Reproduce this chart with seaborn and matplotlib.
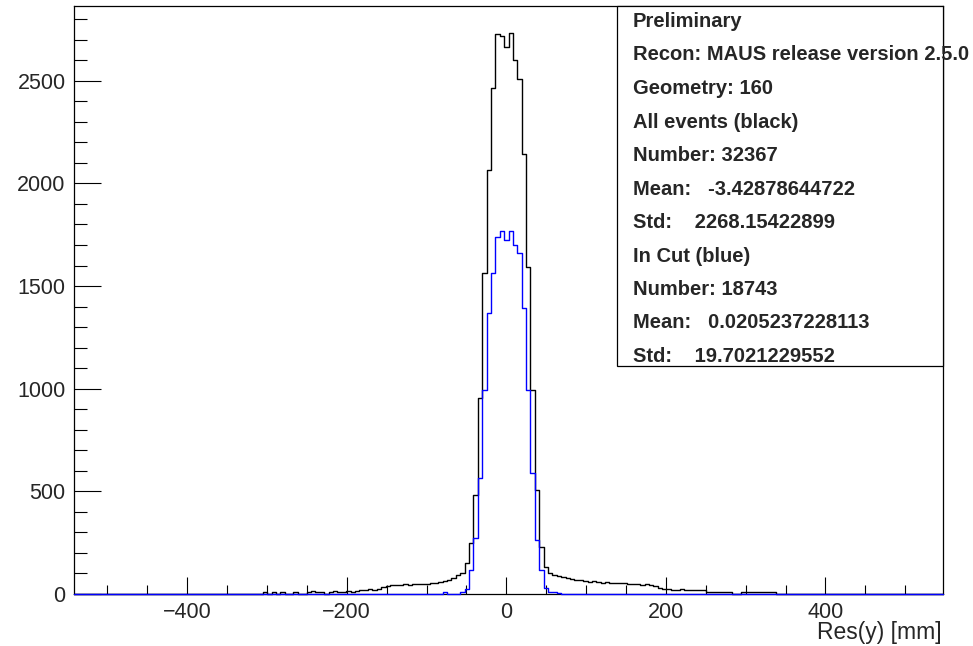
import numpy as np
import pandas as pd
import matplotlib
matplotlib.use("Agg")
import matplotlib.pyplot as plt
import seaborn as sns
from matplotlib.patches import Rectangle
from matplotlib.ticker import MultipleLocator

# ---------------- data ----------------
BIN_WIDTH = 5.5
X_MIN, X_MAX = -541.75, 547.25

# All events (black): bins with centres 5.5*k, k = -56 .. 62
all_first_k = -56
all_counts = [
    0, 10, 0, 12, 0, 8, 0, 0, 10, 0,          # k=-56..-47
    0, 8, 14, 10, 12, 0, 10, 14, 12, 10,      # k=-46..-37
    15, 12, 14, 20, 18, 22, 20, 24, 36, 40,   # k=-36..-27
    44, 42, 44, 48, 46, 48, 50, 48, 50, 52,   # k=-26..-17
    55, 60, 64, 70, 80, 92, 102, 150, 250, 482,  # k=-16..-7
    953, 1563, 2065, 2465, 2730, 2720, 2665, 2732, 2601, 2508,  # k=-6..3
    2143, 1593, 994, 506, 230, 133, 100, 92, 88, 82,  # k=4..13
    80, 72, 68, 70, 64, 60, 62, 58, 55, 58,   # k=14..23
    54, 55, 52, 56, 50, 48, 50, 46, 48, 44,   # k=24..33
    40, 30, 24, 22, 20, 20, 22, 20, 20, 18,   # k=34..43
    20, 18, 10, 12, 10, 10, 8, 10, 0, 0,      # k=44..53
    10, 10, 10, 10, 10, 10, 8, 10, 0,         # k=54..62
]

# In cut (blue): bins with centres 5.5*k, k = -14 .. 13
cut_first_k = -14
cut_counts = [
    8, 0, 0, 0, 10, 25, 117, 272, 565, 994,   # k=-14..-5
    1367, 1563, 1739, 1768, 1724, 1768, 1700, 1661, 1391, 994,  # k=-4..5
    590, 263, 117, 29, 12, 8, 5, 0,           # k=6..13
]

stats_lines = [
    "Preliminary",
    "Recon: MAUS release version 2.5.0",
    "Geometry: 160",
    "All events (black)",
    "Number: 32367",
    "Mean:   -3.42878644722",
    "Std:    2268.15422899",
    "In Cut (blue)",
    "Number: 18743",
    "Mean:   0.0205237228113",
    "Std:    19.7021229552",
]
x_label = "Res(y) [mm]"

# ---------------- build histogram table ----------------
edges = np.arange(X_MIN, X_MAX + 1e-6, BIN_WIDTH)
centers = edges[:-1] + BIN_WIDTH / 2
n_bins = len(centers)
zero_index = int(round((0 - centers[0]) / BIN_WIDTH))

w_all = np.zeros(n_bins)
w_all[zero_index + all_first_k: zero_index + all_first_k + len(all_counts)] = all_counts
w_cut = np.zeros(n_bins)
w_cut[zero_index + cut_first_k: zero_index + cut_first_k + len(cut_counts)] = cut_counts

df = pd.DataFrame({"res": centers, "all": w_all, "cut": w_cut})
bin_list = [float(e) for e in edges]

# ---------------- figure ----------------
sns.set_style("ticks")
plt.rcParams["font.family"] = ["Liberation Sans", "DejaVu Sans"]

W, H = 973, 646
fig = plt.figure(figsize=(W / 100, H / 100), dpi=100)
ax = fig.add_axes([74 / W, 1 - 594 / H, (943 - 74) / W, (594 - 6) / H])

sns.histplot(data=df, x="res", weights="all", bins=bin_list, element="step",
             fill=False, color="black", linewidth=1.0, ax=ax)
sns.histplot(data=df, x="res", weights="cut", bins=bin_list, element="step",
             fill=False, color="#0000ff", linewidth=1.0, ax=ax)
for i, ln in enumerate(ax.lines):
    ln.set_clip_on(False)
    ln.set_zorder(3 + i)

ax.set_xlim(X_MIN, X_MAX)
ax.set_ylim(0, 2864)
ax.set_xlabel("")
ax.set_ylabel("")

ax.xaxis.set_major_locator(MultipleLocator(200))
ax.xaxis.set_minor_locator(MultipleLocator(50))
ax.yaxis.set_major_locator(MultipleLocator(500))
ax.yaxis.set_minor_locator(MultipleLocator(100))

ax.tick_params(axis="both", which="both", direction="in", top=False, right=False,
               width=0.8, color="black", labelsize=15.5, pad=6)
ax.tick_params(axis="y", which="major", length=19.5)
ax.tick_params(axis="y", which="minor", length=9.5)
ax.tick_params(axis="x", which="major", length=12.5)
ax.tick_params(axis="x", which="minor", length=6.2)

for s in ax.spines.values():
    s.set_color("black")
    s.set_linewidth(0.9)
    s.set_visible(True)
    s.set_zorder(2)

fig.text(942 / W, 1 - 632 / H, x_label, ha="right", va="center", fontsize=16.5)

# stats box
box = Rectangle((617 / W, 1 - 366 / H), (943 - 617) / W, (366 - 6) / H,
                transform=fig.transFigure, facecolor="white", edgecolor="black",
                linewidth=0.9, zorder=5)
fig.patches.append(box)
y0, dy = 21.5, 33.5
for i, line in enumerate(stats_lines):
    fig.text(633 / W, 1 - (y0 + i * dy) / H, line, ha="left", va="center",
             fontsize=14.5, fontweight="bold", zorder=6)

fig.savefig("out.png", dpi=100, facecolor="white")
